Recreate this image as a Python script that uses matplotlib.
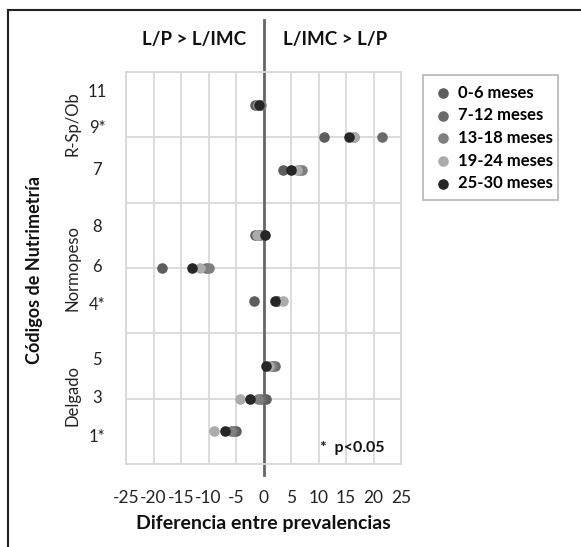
import numpy as np
import matplotlib.pyplot as plt
from matplotlib.lines import Line2D

plt.rcParams['font.family'] = ['Lato', 'DejaVu Sans']
plt.rcParams['axes.unicode_minus'] = False

# posiciones de fila (eje y) y etiquetas
filas = [1, 2, 3, 5, 6, 7, 9, 10, 11]
codigos = ['1*', '3', '5', '4*', '6', '8', '7', '9*', '11']

grupos = ['0-6 meses', '7-12 meses', '13-18 meses', '19-24 meses', '25-30 meses']
colores = ['#5e5e5e', '#6b6b6b', '#7f7f7f', '#ababab', '#262626']

# diferencia entre prevalencias por grupo de edad (mismo orden que filas)
d_0_6 = [-5.0, 0.5, 1.5, -1.8, -18.5, -1.5, 3.5, 11.0, -1.5]
d_7_12 = [-5.5, -0.5, 2.0, 2.5, -10.5, -1.0, 6.5, 21.5, -1.0]
d_13_18 = [-6.0, -1.0, 1.5, 2.5, -10.0, -0.5, 7.0, 16.5, -0.5]
d_19_24 = [-9.0, -4.2, 1.0, 3.5, -11.5, -1.2, 6.0, 16.5, -1.0]
d_25_30 = [-7.0, -2.5, 0.5, 2.0, -13.0, 0.2, 5.0, 15.5, -0.8]
datos = [d_0_6, d_7_12, d_13_18, d_19_24, d_25_30]

fig = plt.figure(figsize=(5.81, 5.47), dpi=100)
ax = fig.add_axes([126/581, 1-464/547, 275/581, 392/547])

for d, c, g in zip(datos, colores, grupos):
    ax.scatter(d, filas, s=58, color=c, label=g, zorder=3, linewidths=0)

ax.set_xlim(-25, 25)
ax.set_ylim(0, 12)
ax.set_xticks(np.arange(-25, 26, 5))
ax.set_yticks(np.arange(0, 13, 2))
ax.set_yticklabels([])
ax.grid(True, color='#d9d9d9', linewidth=1.3, zorder=0)
ax.tick_params(length=0, labelsize=12.5, pad=19, colors='#222222')
for s in ax.spines.values():
    s.set_color('#d9d9d9')
    s.set_linewidth(1.3)

# linea del cero
ax.axvline(0, ymin=-0.028, ymax=1.133, color='#666666', linewidth=2, clip_on=False, zorder=2)

# etiquetas de codigos
ypos = [437, 398, 360, 305, 267, 227, 170, 128, 92]
for lab, yp in zip(codigos, ypos):
    fig.text(97/581, 1-yp/547, lab, ha='center', va='center', fontsize=12, color='#222222')

fig.text(72/581, 1-124/547, 'R-Sp/Ob', rotation=90, ha='center', va='center', fontsize=12, color='#222222')
fig.text(72/581, 1-268/547, 'Normopeso', rotation=90, ha='center', va='center', fontsize=12, color='#222222')
fig.text(72/581, 1-396/547, 'Delgado', rotation=90, ha='center', va='center', fontsize=12, color='#222222')
fig.text(35/581, 1-270/547, 'Códigos de Nutrimetría', rotation=90, ha='center', va='center',
         fontsize=13, fontweight='bold', color='#111111')

fig.text(246/581, 1-40/547, 'L/P > L/IMC', ha='right', va='center', fontsize=13.5, fontweight='bold', color='#111111')
fig.text(283/581, 1-40/547, 'L/IMC > L/P', ha='left', va='center', fontsize=13.5, fontweight='bold', color='#111111')
fig.text(263/581, 1-523/547, 'Diferencia entre prevalencias', ha='center', va='center',
         fontsize=14, fontweight='bold', color='#111111')
ax.text(16.2, 0.5, '*  p<0.05', ha='center', va='center', fontsize=11.5, fontweight='bold', color='#111111')

leg = ax.legend(loc='upper left', bbox_to_anchor=(415/581, 1-67/547, 151/581, 0),
                bbox_transform=fig.transFigure, mode='expand', frameon=True, fancybox=False,
                prop={'size': 12, 'weight': 'bold'}, handletextpad=0.3, labelspacing=0.4,
                borderpad=0.55, handlelength=1.2, markerscale=1.0)
leg.get_frame().set_edgecolor('#aaaaaa')
leg.get_frame().set_linewidth(1.3)

# marco exterior
fig.add_artist(Line2D([8/581, 8/581], [0, 1-10/547], color='#222222', linewidth=1.5))
fig.add_artist(Line2D([8/581, 1], [1-10/547, 1-10/547], color='#222222', linewidth=1.5))

fig.savefig('out.png', dpi=100)
